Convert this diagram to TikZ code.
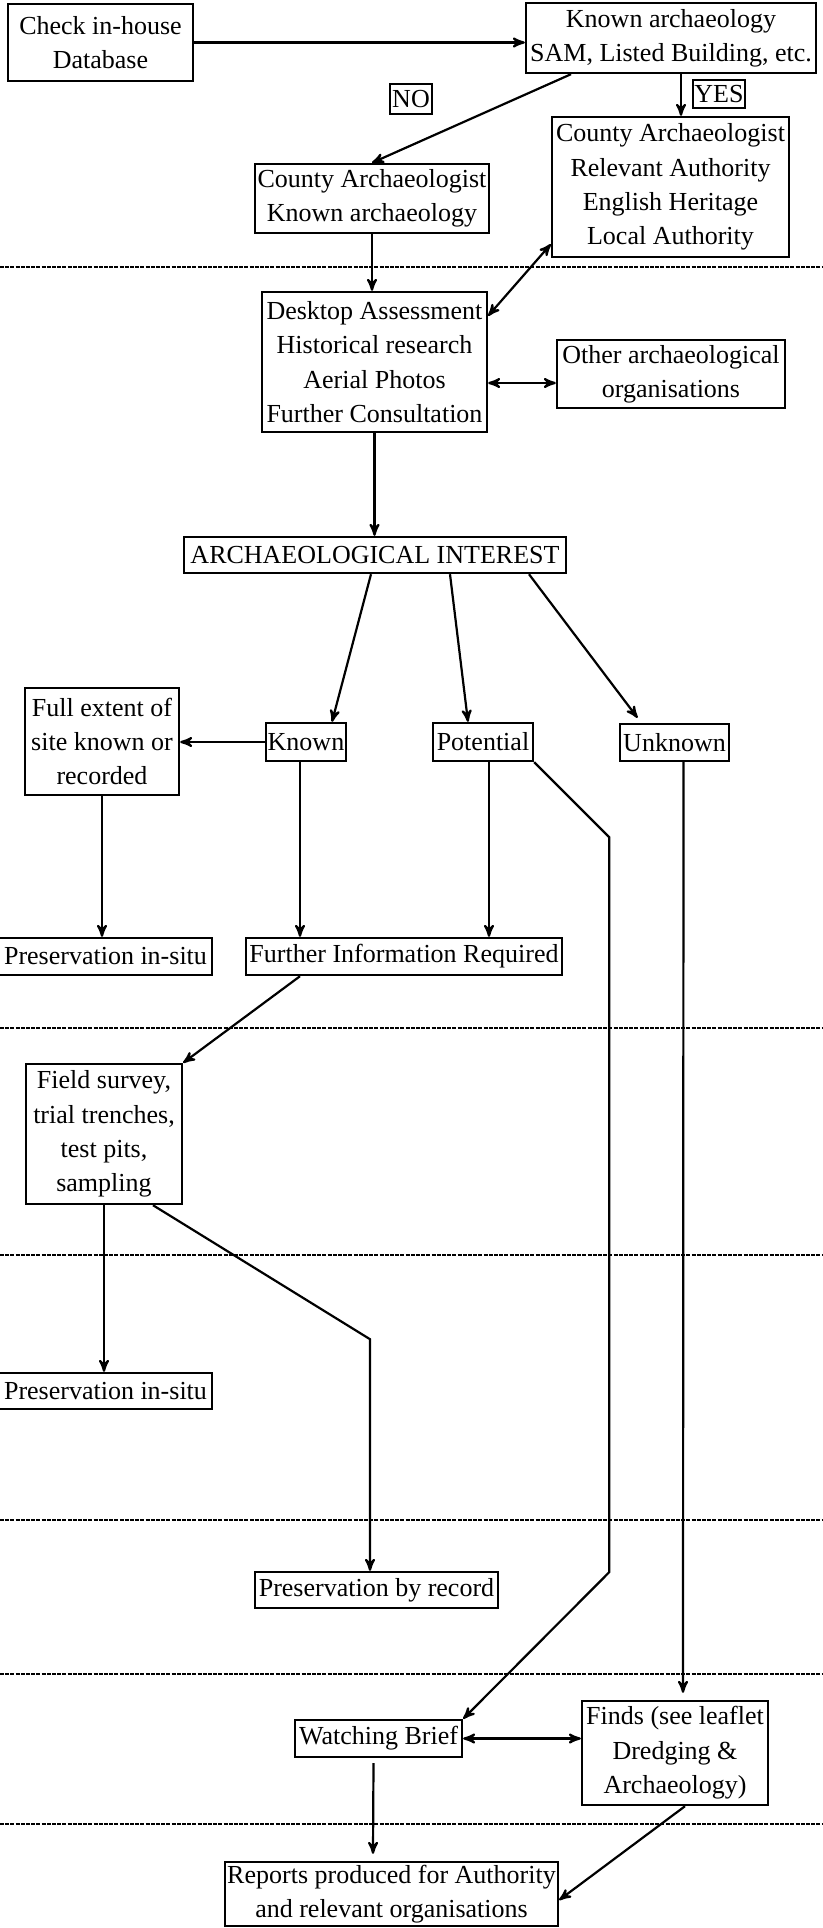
\documentclass[tikz,border=0pt]{standalone}
\usepackage{fontspec}
\setmainfont{Liberation Serif}
\usetikzlibrary{arrows,calc}

\begin{document}
\begin{tikzpicture}[x=0.5pt,y=-0.5pt,
    stage/.style={draw,line width=1.2pt,align=center,inner sep=0.5pt,
        font={\fontsize{13}{17.2}\selectfont}},
    tag/.style={stage,line width=1pt},
    flow/.style={line width=1.1pt,->,>=stealth'},
    both/.style={line width=1.1pt,<->,>=stealth'},
    stagebreak/.style={line width=0.8pt,dash pattern=on 2pt off 0.6pt}]
\useasboundingbox (0,0) rectangle (823,1928);
\clip (0,0) rectangle (823,1928);
%\draw (0,0) rectangle (823,1928);
\draw[stagebreak] (0,267)--(823,267) (0,1028)--(823,1028) (0,1255)--(823,1255)
    (0,1520)--(823,1520) (0,1674)--(823,1674) (0,1824)--(823,1824);

\node[stage,minimum width=92.5pt,minimum height=38.5pt] (check) at (100.5,42.5) {Check in-house\\Database};
\node[stage,minimum width=145pt,minimum height=35pt] (known) at (671,38) {Known archaeology\\SAM, Listed Building, etc.};
\node[tag,minimum width=21pt,minimum height=15pt] (no) at (411,99) {NO};
\node[tag,minimum width=26pt,minimum height=14pt] (yes) at (719,94) {YES};
\node[stage,minimum width=117pt,minimum height=34.5pt] (county) at (372,198.5) {County Archaeologist\\Known archaeology};
\node[stage,minimum width=118.5pt,minimum height=70pt] (auth) at (670.5,187) {County Archaeologist\\Relevant Authority\\English Heritage\\Local Authority};
\node[stage,minimum width=112.5pt,minimum height=70pt] (desk) at (374.5,362) {Desktop Assessment\\Historical research\\Aerial Photos\\Further Consultation};
\node[stage,minimum width=114pt,minimum height=34pt] (other) at (671,374) {Other archaeological\\organisations};
\node[stage,minimum width=191pt,minimum height=18pt] (interest) at (375,555) {ARCHAEOLOGICAL INTEREST};

\node[stage,minimum width=77pt,minimum height=53.5pt] (extent) at (102,741.5) {Full extent of\\site known or\\recorded};
\node[stage,minimum width=40pt,minimum height=19pt] (isknown) at (306,742) {Known};
\node[stage,minimum width=50pt,minimum height=19pt] (potential) at (483,742) {Potential};
\node[stage,minimum width=54.5pt,minimum height=18.5pt] (unknown) at (674.5,742.5) {Unknown};
\node[stage,minimum width=106.5pt,minimum height=18.5pt] (insituA) at (105.5,956.5) {Preservation in-situ};
\node[stage,minimum width=158pt,minimum height=18.5pt] (further) at (404,956.5) {Further Information Required};

\node[stage,minimum width=78pt,minimum height=70pt] (field) at (104,1134) {Field survey,\\trial trenches,\\test pits,\\sampling};
\node[stage,minimum width=106.5pt,minimum height=18pt] (insituB) at (105.5,1391) {Preservation in-situ};
\node[stage,minimum width=121.5pt,minimum height=18pt] (record) at (376.5,1590) {Preservation by record};
\node[stage,minimum width=83.5pt,minimum height=18.5pt] (watch) at (378.5,1738.5) {Watching Brief};
\node[stage,minimum width=93pt,minimum height=52pt] (finds) at (675,1753) {Finds (see leaflet\\Dredging \&\\Archaeology)};
\node[stage,minimum width=166.5pt,minimum height=32pt] (reports) at (391.5,1894) {Reports produced for Authority\\and relevant organisations};

\draw[flow] (check.east) -- (check.east -| known.west);
\draw[flow] ($(known.south)+(-100,0)$) -- (county.north);
\draw[flow] ($(known.south)+(10,0)$) -- ($(auth.north)+(10.5,0)$);
\draw[flow] (county.south) -- (county.south |- desk.north);
\draw[both] ($(desk.north east)+(0,25)$) -- ($(auth.south west)+(0,-14)$);
\draw[both] ($(desk.east)+(0,21)$) -- ($(other.west)+(0,9)$);
\draw[flow] (desk.south) -- (desk.south |- interest.north);

\draw[flow] ($(interest.south)+(-4,0)$) -- ($(isknown.north)+(26,0)$);
\draw[flow] ($(interest.south)+(75,0)$) -- ($(potential.north)+(-15,0)$);
\draw[flow] ($(interest.south)+(154,0)$) -- ($(unknown.north)+(-37,-5)$);
\draw[flow] (isknown.west) -- (isknown.west -| extent.east);
\draw[flow] (extent.south) -- (extent.south |- insituA.north);
\draw[flow] ($(isknown.south)+(-6,0)$) -- ($(further.north)+(-104,0)$);
\draw[flow] ($(potential.south)+(6,0)$) -- ($(further.north)+(85,0)$);
\draw[flow] (potential.south east) -- ++(75,75) -- ++(0,735) -- (watch.north east);
\draw[flow] ($(unknown.south)+(9,0)$) -- ($(finds.north)+(8,-7)$);

\draw[flow] ($(further.south)+(-104,0)$) -- (field.north east);
\draw[flow] (field.south) -- (field.south |- insituB.north);
\draw[flow] ($(field.south)+(49,0)$) -- ++(217,134) coordinate (bend) -- (bend |- record.north);
\draw[both] (watch.east) -- (watch.east -| finds.west);
\draw[flow] ($(watch.south)+(-5,5)$) -- ($(reports.north)+(-18.5,-7)$);
\draw[flow] ($(finds.south)+(10,0)$) -- ($(reports.east)+(0,6)$);
\end{tikzpicture}
\end{document}
